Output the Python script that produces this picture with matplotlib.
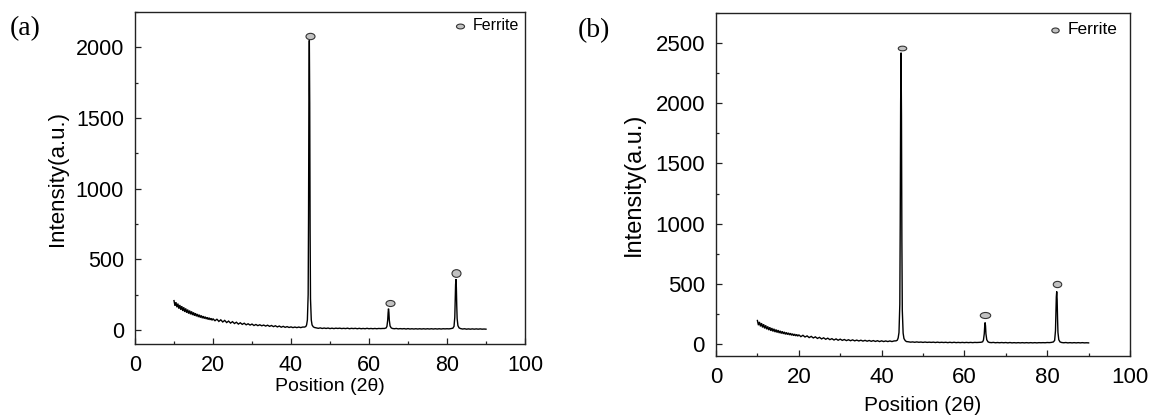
import numpy as np
import matplotlib
matplotlib.use("Agg")
import matplotlib.pyplot as plt
from matplotlib.path import Path
from matplotlib.ticker import MultipleLocator
import matplotlib.transforms as mtransforms

plt.rcParams['font.family'] = ['Liberation Sans', 'DejaVu Sans']

# ---- scan positions (2-theta, degrees) ----
scan_low = np.arange(10.0, 20.01, 0.25)
scan_mid = np.arange(20.5, 43.51, 0.5)
peak110_x = [43.8, 44.0, 44.2, 44.4, 44.5, 44.6, 44.7, 44.8, 44.9, 45.0, 45.2, 45.4, 45.7, 46.0]
scan_between1 = np.arange(46.5, 64.01, 0.5)
peak200_x = [64.4, 64.6, 64.8, 64.9, 65.0, 65.1, 65.2, 65.4, 65.7, 66.0]
scan_between2 = np.arange(66.5, 81.51, 0.5)
peak211_x = [81.8, 82.0, 82.1, 82.2, 82.3, 82.4, 82.5, 82.6, 82.8, 83.1, 83.5]
scan_high = np.arange(84.0, 90.01, 0.5)

# ---- sample (a) intensities ----
a_low = [207, 170, 196, 160, 186, 150, 176, 142, 168, 134, 160, 127, 152, 121, 144, 115,
         137, 110, 131, 105, 124, 100, 118, 96, 112, 91, 107, 87, 102, 83, 97, 80,
         93, 77, 89, 73, 86, 71, 82, 68, 79]
a_mid = [64, 76, 60, 71, 56, 67, 52, 62, 48, 58, 45, 54, 41, 50, 39, 47, 36, 43, 34, 41,
         31, 38, 30, 36, 29, 34, 27, 33, 25, 31, 23, 29, 21, 27, 19, 25, 18, 23, 17, 21,
         16, 20, 16, 20, 16, 20, 20]
a_p110 = [24, 35, 70, 250, 800, 1700, 2050, 1600, 700, 220, 70, 35, 22, 17]
a_between1 = [14, 11, 14, 10, 13, 10, 13, 9, 12, 9, 12, 10, 12, 9, 11, 9, 12, 8, 11, 9,
              11, 8, 11, 8, 10, 8, 11, 8, 10, 8, 10, 8, 10, 9, 10, 10]
a_p200 = [14, 25, 70, 120, 150, 125, 70, 28, 14, 10]
a_between2 = [8, 10, 7, 9, 7, 9, 6, 9, 6, 8, 6, 8, 6, 8, 6, 8, 6, 8, 6, 8, 6, 8, 6, 8, 6,
              8, 7, 8, 7, 9, 12]
a_p211 = [25, 90, 200, 320, 360, 300, 170, 80, 30, 14, 9]
a_high = [6, 8, 5, 7, 5, 7, 5, 7, 5, 7, 5, 6, 5]

# ---- sample (b) intensities ----
b_low = [195, 156, 183, 146, 173, 137, 164, 129, 155, 122, 146, 115, 139, 109, 132, 104,
         126, 99, 120, 95, 115, 91, 109, 87, 105, 84, 100, 80, 96, 78, 92, 75,
         89, 72, 85, 69, 82, 67, 79, 65, 76]
b_mid = [61, 72, 58, 67, 53, 63, 50, 59, 46, 55, 42, 51, 39, 48, 36, 44, 33, 42, 31, 40,
         30, 37, 28, 35, 27, 34, 26, 32, 25, 31, 24, 30, 23, 29, 22, 28, 21, 27, 20, 26,
         20, 25, 20, 25, 20, 25, 26]
b_p110 = [32, 50, 95, 330, 1000, 2000, 2420, 1900, 850, 280, 90, 45, 28, 20]
b_between1 = [18, 15, 17, 14, 17, 14, 16, 13, 16, 13, 15, 13, 15, 12, 15, 12, 14, 12, 14, 11,
              14, 11, 14, 11, 13, 11, 13, 11, 13, 11, 13, 11, 13, 12, 13, 14]
b_p200 = [18, 32, 85, 145, 178, 150, 85, 35, 18, 13]
b_between2 = [11, 13, 10, 12, 10, 12, 10, 12, 9, 12, 9, 11, 9, 11, 9, 11, 9, 11, 9, 11,
              9, 11, 9, 11, 10, 11, 10, 12, 11, 13, 17]
b_p211 = [30, 110, 250, 390, 436, 370, 210, 95, 35, 17, 12]
b_high = [10, 12, 9, 11, 9, 11, 9, 11, 9, 11, 9, 10, 9]

# ---- ferrite peak labels (position, intensity) ----
a_marker_x = [44.8, 65.3, 82.2]
a_marker_y = [2078, 188, 405]
b_marker_x = [44.9, 65.0, 82.3]
b_marker_y = [2458, 239, 500]

x_ticks = [0, 20, 40, 60, 80, 100]
a_y_ticks = [0, 500, 1000, 1500, 2000]
b_y_ticks = [0, 500, 1000, 1500, 2000, 2500]

two_theta = np.concatenate([scan_low, scan_mid, peak110_x, scan_between1, peak200_x,
                            scan_between2, peak211_x, scan_high])
intensity_a = np.concatenate([a_low, a_mid, a_p110, a_between1, a_p200,
                              a_between2, a_p211, a_high])
intensity_b = np.concatenate([b_low, b_mid, b_p110, b_between1, b_p200,
                              b_between2, b_p211, b_high])


def oval(ratio):
    return Path.unit_circle().transformed(mtransforms.Affine2D().scale(1.0, ratio))


FILL = '#c2c2c2'
EDGE = '#333333'

fig = plt.figure(figsize=(11.54, 4.2), dpi=100)
ax_a = fig.add_axes([135 / 1154, 1 - 344 / 420, 390 / 1154, 332 / 420])
ax_b = fig.add_axes([716 / 1154, 1 - 356 / 420, 414 / 1154, 343 / 420])

panels = [
    dict(ax=ax_a, y=intensity_a, ylim=(-100, 2250), yticks=a_y_ticks,
         mx=a_marker_x, my=a_marker_y, msize=[6.5, 6.5, 6.5], mratio=[0.7, 0.67, 0.85],
         leg=(83.3, 2154, 86.6), leg_ms=5.8, leg_ratio=0.6, leg_fs=11.5,
         tick_fs=15.5, ylab_fs=16, xlab_fs=14, ylab_x=-0.171, xlab_y=-0.102,
         tag='(a)', tag_xy=(25, 29)),
    dict(ax=ax_b, y=intensity_b, ylim=(-100, 2750), yticks=b_y_ticks,
         mx=b_marker_x, my=b_marker_y, msize=[6.1, 7.5, 6.1], mratio=[0.55, 0.58, 0.74],
         leg=(81.8, 2611, 85.0), leg_ms=5.3, leg_ratio=0.68, leg_fs=12.5,
         tick_fs=16, ylab_fs=17, xlab_fs=15, ylab_x=-0.1715, xlab_y=-0.1166,
         tag='(b)', tag_xy=(594, 31)),
]

for p in panels:
    ax = p['ax']
    ax.plot(two_theta, p['y'], color='black', lw=1.0, solid_joinstyle='miter')
    for x, y, ms, r in zip(p['mx'], p['my'], p['msize'], p['mratio']):
        ax.plot([x], [y], ls='none', marker=oval(r), ms=ms, mfc=FILL, mec=EDGE, mew=0.8)
    lx, ly, tx = p['leg']
    ax.plot([lx], [ly], ls='none', marker=oval(p['leg_ratio']), ms=p['leg_ms'],
            mfc=FILL, mec=EDGE, mew=0.8)
    ax.text(tx, ly, 'Ferrite', fontsize=p['leg_fs'], va='center', ha='left')

    ax.set_xlim(0, 100)
    ax.set_ylim(*p['ylim'])
    ax.set_xticks(x_ticks)
    ax.set_yticks(p['yticks'])
    ax.xaxis.set_minor_locator(MultipleLocator(10))
    ax.yaxis.set_minor_locator(MultipleLocator(250))
    ax.tick_params(which='both', direction='in', top=False, right=False,
                   color='#222222', width=0.9)
    ax.tick_params(which='major', length=4.5, labelsize=p['tick_fs'], pad=8)
    ax.tick_params(which='minor', length=2.3)
    for s in ax.spines.values():
        s.set_linewidth(1.0)
        s.set_color('#222222')

    ax.set_ylabel('Intensity(a.u.)', fontsize=p['ylab_fs'])
    ax.set_xlabel('Position (2\u03b8)', fontsize=p['xlab_fs'])
    ax.yaxis.set_label_coords(p['ylab_x'], 0.5)
    ax.xaxis.set_label_coords(0.5, p['xlab_y'])

    fig.text(p['tag_xy'][0] / 1154, 1 - p['tag_xy'][1] / 420, p['tag'],
             fontsize=20, family='Liberation Serif', ha='center', va='center')

fig.savefig('out.png', dpi=100)
